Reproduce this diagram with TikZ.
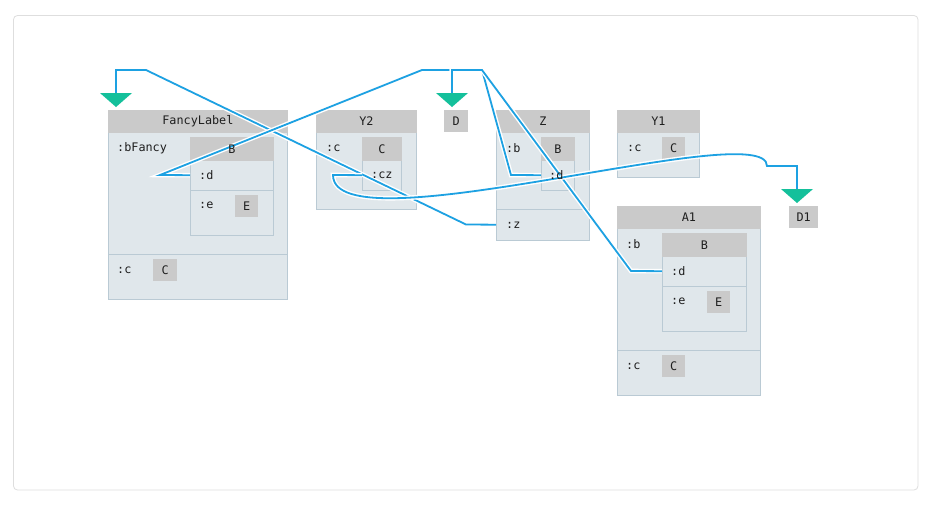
\documentclass[tikz,border=0pt]{standalone}
\usepackage{fontspec}
\setmonofont{DejaVu Sans Mono}
\definecolor{connc}{RGB}{29,161,226}
\definecolor{tealc}{RGB}{20,192,155}
\definecolor{hdrgray}{RGB}{202,202,202}
\definecolor{bodyc}{RGB}{224,231,235}
\definecolor{bordc}{RGB}{186,202,212}
\definecolor{framec}{RGB}{222,222,222}
\definecolor{txtc}{RGB}{30,30,30}
\begin{document}
\begin{tikzpicture}[x=1pt,y=-1pt,
  font=\ttfamily\fontsize{11.8}{13}\selectfont,
  boxbody/.style={draw=bordc, fill=bodyc, line width=0.8pt, inner sep=0pt, anchor=north west},
  hdr/.style={draw=hdrgray, fill=hdrgray, line width=0.8pt, inner sep=0pt, anchor=north west},
  ttl/.style={inner sep=0pt, text=txtc},
  valbox/.style={fill=hdrgray, inner sep=0pt, anchor=north west, text=txtc},
  rowbox/.style={inner sep=0pt, anchor=north west},
  fld/.style={anchor=west, inner sep=0pt, text=txtc},
  sepline/.style={draw=bordc, line width=0.8pt},
  conn/.style={draw=connc, line width=1.8pt, preaction={draw=white, line width=4.6pt}},
  tri/.style={fill=tealc}
]
\useasboundingbox (0,0) rectangle (935,506);
\fill[white] (0,0) rectangle (935,506);
\draw[draw=framec, fill=white, line width=0.8pt, rounded corners=4pt] (13.5,15.5) rectangle (918,490);

% ---------- FancyLabel ----------
\node[boxbody, minimum width=179, minimum height=189] (FL) at (108,110) {};
\node[hdr, minimum width=179, minimum height=22] (FLh) at (108,110) {};
\node[boxbody, minimum width=83, minimum height=98] (FLB) at (190,137) {};
\node[hdr, minimum width=83, minimum height=23] (FLBh) at (190,137) {};
\node[rowbox, minimum width=83, minimum height=30] (flBd) at (190,160) {};
\draw[sepline] (190,190) -- (273,190);
\node[valbox, minimum width=23, minimum height=22] (flBE) at (235,195) {E};
\draw[sepline] (108,254) -- (287,254);
\node[valbox, minimum width=24, minimum height=22] (FLC) at (153,259) {C};

% ---------- Y2 ----------
\node[boxbody, minimum width=100, minimum height=99] (Y2) at (316,110) {};
\node[hdr, minimum width=100, minimum height=22] (Y2h) at (316,110) {};
\node[boxbody, minimum width=39, minimum height=53] (Y2C) at (362,137) {};
\node[hdr, minimum width=39, minimum height=23] (Y2Ch) at (362,137) {};
\node[rowbox, minimum width=39, minimum height=30] (y2Ccz) at (362,160) {};

% ---------- D ----------
\node[valbox, minimum width=24, minimum height=22] (D) at (444,110) {D};

% ---------- Z ----------
\node[boxbody, minimum width=93, minimum height=130] (Z) at (496,110) {};
\node[hdr, minimum width=93, minimum height=22] (Zh) at (496,110) {};
\node[boxbody, minimum width=33, minimum height=53] (ZB) at (541,137) {};
\node[hdr, minimum width=33, minimum height=23] (ZBh) at (541,137) {};
\node[rowbox, minimum width=33, minimum height=30] (zBd) at (541,160) {};
\draw[sepline] (496,209) -- (589,209);
\node[rowbox, minimum width=93, minimum height=31] (zz) at (496,209) {};

% ---------- Y1 ----------
\node[boxbody, minimum width=82, minimum height=67] (Y1) at (617,110) {};
\node[hdr, minimum width=82, minimum height=22] (Y1h) at (617,110) {};
\node[valbox, minimum width=23, minimum height=22] (Y1C) at (662,137) {C};

% ---------- D1 ----------
\node[valbox, minimum width=29, minimum height=22] (D1) at (789,206) {D1};

% ---------- A1 ----------
\node[boxbody, minimum width=143, minimum height=189] (A1) at (617,206) {};
\node[hdr, minimum width=143, minimum height=22] (A1h) at (617,206) {};
\node[boxbody, minimum width=84, minimum height=98] (A1B) at (662,233) {};
\node[hdr, minimum width=84, minimum height=23] (A1Bh) at (662,233) {};
\node[rowbox, minimum width=84, minimum height=30] (a1Bd) at (662,256) {};
\draw[sepline] (662,286) -- (746,286);
\node[valbox, minimum width=23, minimum height=22] (a1BE) at (707,291) {E};
\draw[sepline] (617,350) -- (760,350);
\node[valbox, minimum width=23, minimum height=22] (A1C) at (662,355) {C};

% ---------- triangle anchors ----------
\coordinate (tFL) at (116,94);
\coordinate (tD) at (452,94);
\coordinate (tD1) at (797,190);

% ---------- connectors ----------
\draw[conn] (tFL) -- (116,70) -- (146,70) -- (466,224.5) -- (zz.west);
\draw[conn] (tD) -- (452,70) -- (422,70) -- (160,175) -- (flBd.west);
\draw[conn] (tD) -- (452,70) -- (482,70) -- (511,175) -- (zBd.west);
\draw[conn] (tD) -- (452,70) -- (482,70) -- (631,271) -- (a1Bd.west);
\draw[conn] (y2Ccz.west) -- (333,175) .. controls (333,250) and (767,115) .. (767,166) -- (797,166) -- (tD1);

% ---------- triangles ----------
\fill[tri] (100,93) -- (132,93) -- (116,107) -- cycle;
\fill[tri] (436,93) -- (468,93) -- (452,107) -- cycle;
\fill[tri] (781,189) -- (813,189) -- (797,203) -- cycle;

% ---------- texts (on top) ----------
\node[ttl] at (FLh.center) {FancyLabel};
\node[fld] at (117,148) {:bFancy};
\node[ttl] at (FLBh.center) {B};
\node[fld] at (199,175) {:d};
\node[fld] at (199,205) {:e};
\node[fld] at (117,270) {:c};

\node[ttl] at (Y2h.center) {Y2};
\node[fld] at (326,148) {:c};
\node[ttl] at (Y2Ch.center) {C};
\node[fld] at (371,175) {:cz};

\node[ttl] at (Zh.center) {Z};
\node[fld] at (506,148) {:b};
\node[ttl] at (ZBh.center) {B};
\node[fld] at (549,175) {:d};
\node[fld] at (506,225) {:z};

\node[ttl] at (Y1h.center) {Y1};
\node[fld] at (627,148) {:c};

\node[ttl] at (A1h.center) {A1};
\node[fld] at (626,244) {:b};
\node[ttl] at (A1Bh.center) {B};
\node[fld] at (671,271) {:d};
\node[fld] at (671,301) {:e};
\node[fld] at (626,366) {:c};
\end{tikzpicture}
\end{document}
